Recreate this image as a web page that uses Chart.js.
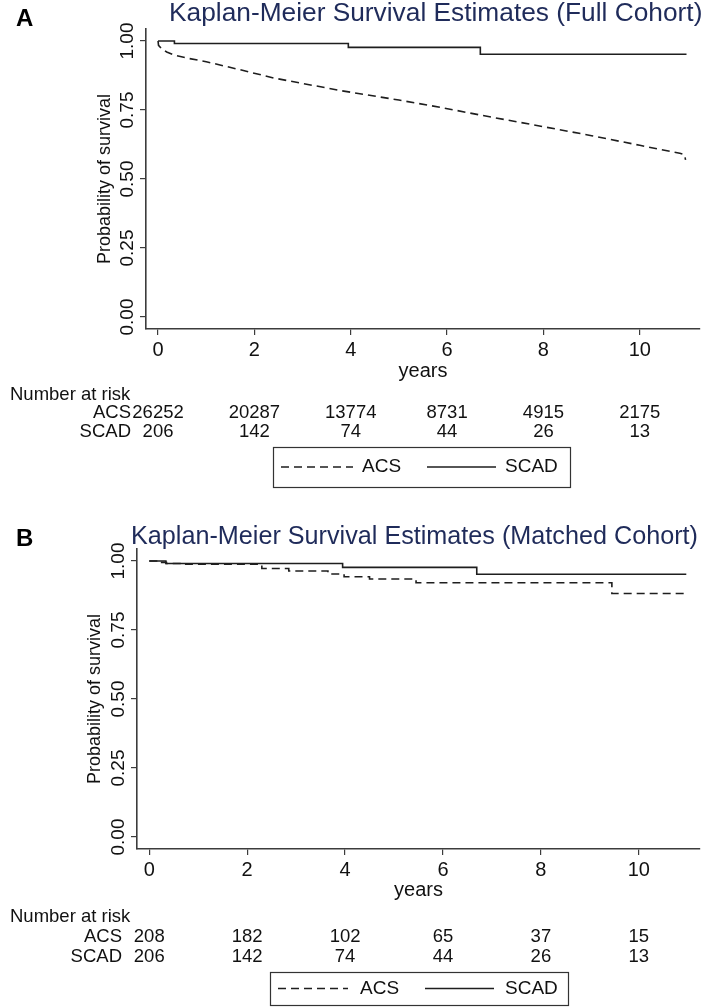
<!DOCTYPE html>
<html><head><meta charset="utf-8">
<script src="https://cdn.jsdelivr.net/npm/chart.js@4/dist/chart.umd.min.js"></script>
<style>
html,body{margin:0;padding:0;background:#fff;}
#wrap{position:relative;width:709px;height:1008px;overflow:hidden;background:#fff;}
canvas{position:absolute;left:0;}
#c1{top:0;} #c2{top:500px;}
</style></head><body>
<div id="wrap"><canvas id="c1"></canvas><canvas id="c2"></canvas></div>
<script>
// ---------- data ----------
const xTicks = [0, 2, 4, 6, 8, 10];
const yTicks = [0, 0.25, 0.5, 0.75, 1];
const groupNames = ['ACS', 'SCAD'];
const titleFull = 'Kaplan-Meier Survival Estimates (Full Cohort)';
const titleMatched = 'Kaplan-Meier Survival Estimates (Matched Cohort)';

// Panel A (full cohort)
const fullAcsTime = [0, 0.01, 0.08, 0.18, 0.32, 0.6, 1.0, 1.7, 2.4, 3.8, 5.0, 5.85, 6.8, 7.8, 9.0, 10.0, 10.83, 10.93, 10.95];
const fullAcsSurv = [1.0, 0.984, 0.971, 0.960, 0.950, 0.938, 0.925, 0.896, 0.866, 0.820, 0.786, 0.760, 0.728, 0.696, 0.657, 0.622, 0.593, 0.588, 0.569];
const scadTime = [0, 0.34, 3.95, 6.69, 10.97];
const scadSurv = [1.0, 0.991, 0.977, 0.952, 0.952];
const fullRiskAcs = [26252, 20287, 13774, 8731, 4915, 2175];
const fullRiskScad = [206, 142, 74, 44, 26, 13];

// Panel B (matched cohort)
const matchedAcsTime = [0, 0.15, 0.35, 0.65, 2.3, 2.85, 3.65, 3.98, 4.5, 5.45, 9.45, 10.97];
const matchedAcsSurv = [1.0, 0.995, 0.991, 0.988, 0.973, 0.964, 0.953, 0.943, 0.935, 0.921, 0.882, 0.882];
const matchedRiskAcs = [208, 182, 102, 65, 37, 15];
const matchedRiskScad = [206, 142, 74, 44, 26, 13];

// ---------- drawing ----------
const FAM = '"Liberation Sans", Arial, Helvetica, sans-serif';
const LINE = '#1e1e1e';
const AXIS = '#3c3c3c';
const TITLE_COLOR = '#1f2b5a';

function pts(t, s) { return t.map((v, i) => ({x: v, y: s[i]})); }

const decor = {
  id: 'decor',
  afterDraw(chart) {
    const c = chart.options.plugins.decor;
    const ctx = chart.ctx;
    const xs = chart.scales.x;
    const area = chart.chartArea;
    ctx.save();
    // panel letter
    ctx.fillStyle = '#000';
    ctx.font = 'bold 24px ' + FAM;
    ctx.textBaseline = 'middle';
    ctx.textAlign = 'left';
    ctx.fillText(c.letter, c.letterX, c.letterY);
    // title
    ctx.fillStyle = TITLE_COLOR;
    ctx.font = c.titleSize + 'px ' + FAM;
    ctx.fillText(c.title, c.titleX, c.titleY);
    // x title
    ctx.fillStyle = '#111';
    ctx.font = '20px ' + FAM;
    ctx.textAlign = 'center';
    ctx.fillText('years', (area.left + area.right) / 2, c.yearsY);
    // risk table
    ctx.font = '18.5px ' + FAM;
    ctx.textAlign = 'left';
    ctx.fillText('Number at risk', 10, c.nrY);
    const rows = [c.riskAcs, c.riskScad];
    rows.forEach((r, k) => {
      const y = c.rowY[k];
      ctx.textAlign = 'right';
      ctx.fillText(groupNames[k], c.rowLabelX, y);
      ctx.textAlign = 'center';
      r.forEach((n, i) => ctx.fillText(String(n), xs.getPixelForValue(xTicks[i]), y));
    });
    // legend box
    const L = c.legend;
    ctx.strokeStyle = '#333';
    ctx.lineWidth = 1.2;
    ctx.setLineDash([]);
    ctx.strokeRect(L.x1 + 0.5, L.y1 + 0.5, L.x2 - L.x1, L.y2 - L.y1);
    const ym = (L.y1 + L.y2) / 2;
    chart.data.datasets.forEach((ds, k) => {
      const sx = L.samples[k];
      ctx.strokeStyle = ds.borderColor;
      ctx.lineWidth = ds.borderWidth;
      ctx.setLineDash(ds.borderDash || []);
      ctx.beginPath();
      ctx.moveTo(sx[0], ym);
      ctx.lineTo(sx[1], ym);
      ctx.stroke();
      ctx.setLineDash([]);
      ctx.fillStyle = '#111';
      ctx.font = '19px ' + FAM;
      ctx.textAlign = 'left';
      ctx.fillText(ds.label, sx[2], ym);
    });
    ctx.restore();
  }
};

function makePanel(id, cfg) {
  const canvas = document.getElementById(id);
  canvas.width = 709; canvas.height = cfg.height;
  canvas.style.width = '709px'; canvas.style.height = cfg.height + 'px';
  return new Chart(canvas, {
    type: 'line',
    data: {
      datasets: [
        {label: groupNames[0], data: pts(cfg.acsT, cfg.acsS), borderColor: LINE, borderWidth: 1.6,
         borderDash: [8, 5], pointRadius: 0, stepped: cfg.acsStepped, fill: false, tension: 0},
        {label: groupNames[1], data: pts(scadTime, scadSurv), borderColor: LINE, borderWidth: 1.6,
         pointRadius: 0, stepped: 'before', fill: false, tension: 0}
      ]
    },
    options: {
      responsive: false, animation: false, devicePixelRatio: 1,
      layout: {padding: {left: 0, top: cfg.areaTop, right: 709 - cfg.areaRight, bottom: 0}},
      plugins: {
        legend: {display: false}, tooltip: {enabled: false}, title: {display: false},
        decor: cfg.decor
      },
      scales: {
        x: {
          type: 'linear', min: -0.25, max: 11.25,
          afterBuildTicks: s => { s.ticks = xTicks.map(v => ({value: v})); },
          afterFit: s => { s.height = cfg.height - cfg.areaBottom; },
          grid: {drawOnChartArea: false, drawTicks: true, tickLength: 6, color: AXIS, lineWidth: 1.2},
          border: {display: true, color: AXIS, width: 1.6},
          ticks: {font: {family: FAM, size: 20}, color: '#111', padding: 3, maxRotation: 0, minRotation: 0, autoSkip: false}
        },
        y: {
          type: 'linear', min: -0.0435, max: 1.0435,
          afterBuildTicks: s => { s.ticks = yTicks.map(v => ({value: v})); },
          afterFit: s => { s.width = cfg.areaLeft; },
          grid: {drawOnChartArea: false, drawTicks: true, tickLength: 6, color: AXIS, lineWidth: 1.2},
          border: {display: true, color: AXIS, width: 1.6},
          ticks: {font: {family: FAM, size: 19}, color: '#111', padding: -6, minRotation: 90, maxRotation: 90,
                  crossAlign: 'center', autoSkip: false, callback: v => Number(v).toFixed(2)},
          title: {display: true, text: 'Probability of survival', color: '#111',
                  font: {family: FAM, size: 18}, padding: {top: cfg.yTitleX - 10.8, bottom: 0}}
        }
      }
    },
    plugins: [decor]
  });
}

makePanel('c1', {
  height: 500, areaTop: 29, areaBottom: 329, areaLeft: 146, areaRight: 700, yTitleX: 105,
  acsT: fullAcsTime, acsS: fullAcsSurv, acsStepped: false,
  decor: {letter: 'A', letterX: 16, letterY: 19, title: titleFull, titleSize: 26.3, titleX: 169, titleY: 14,
          yearsY: 371, nrY: 395, rowY: [413, 432], rowLabelX: 131,
          riskAcs: fullRiskAcs, riskScad: fullRiskScad,
          legend: {x1: 273, x2: 570, y1: 447, y2: 487, samples: [[281, 353, 362], [427, 496, 505]]}}
});

makePanel('c2', {
  height: 508, areaTop: 49, areaBottom: 349, areaLeft: 137, areaRight: 700, yTitleX: 95,
  acsT: matchedAcsTime, acsS: matchedAcsSurv, acsStepped: 'before',
  decor: {letter: 'B', letterX: 16, letterY: 39, title: titleMatched, titleSize: 25.2, titleX: 131, titleY: 37,
          yearsY: 390, nrY: 417, rowY: [437, 457], rowLabelX: 122,
          riskAcs: matchedRiskAcs, riskScad: matchedRiskScad,
          legend: {x1: 270, x2: 568, y1: 472, y2: 505, samples: [[278, 348, 360], [425, 494, 505]]}}
});
</script>
</body></html>
